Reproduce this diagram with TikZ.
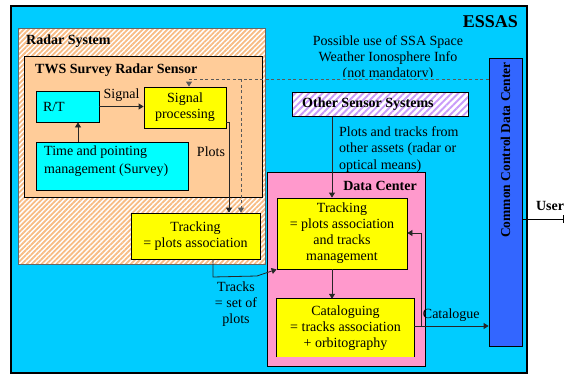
\documentclass[tikz,border=0pt]{standalone}
\usepackage{fontspec}
\setmainfont{Liberation Serif}
\usetikzlibrary{arrows.meta,patterns.meta}

\definecolor{essasblue}{HTML}{00CCFF}
\definecolor{twsorange}{HTML}{FFCC99}
\definecolor{hatchorange}{HTML}{F8BC84}
\definecolor{boxcyan}{HTML}{00FFFF}
\definecolor{boxyellow}{HTML}{FFFF00}
\definecolor{dcpink}{HTML}{FF99CC}
\definecolor{ccdcblue}{HTML}{3366FF}
\definecolor{hatchpurple}{HTML}{C99CFA}

\begin{document}
\begin{tikzpicture}[x=1pt,y=-1pt,
  every node/.style={inner sep=0pt},
  txt/.style={font=\fontsize{14}{16}\selectfont, align=center},
  boldtxt/.style={font=\fontsize{14}{16}\selectfont\bfseries},
  box/.style={draw=black, line width=0.8pt, align=center,
    font=\fontsize{14}{16}\selectfont},
  conn/.style={draw=black!85, line width=0.8pt,
    -{Triangle[length=5pt,width=6pt]}},
  dashconn/.style={conn, draw=black!65, dash pattern=on 3pt off 2.5pt},
]
\useasboundingbox (0,0) rectangle (566,375);
\fill[white] (0,0) rectangle (566,375);

% outer ESSAS frame
\node[box, fill=essasblue, line width=1.3pt, minimum width=516pt,
  minimum height=367pt] (essas) at (269,189.5) {};
\node[font=\fontsize{18}{20}\selectfont\bfseries, anchor=east] (essaslbl)
  at (518,22) {ESSAS};

% radar system (hatched) and the TWS sensor inside it
\node[draw=black!60, line width=0.8pt, preaction={fill=white},
  pattern={Lines[angle=45,distance=3.5pt,line width=1.8pt]},
  pattern color=hatchorange, minimum width=247pt, minimum height=236pt]
  (radar) at (141.5,146) {};
\node[boldtxt, anchor=west] (radarlbl) at (26,41) {Radar System};
\node[box, fill=twsorange, minimum width=238pt, minimum height=141pt]
  (tws) at (143,126.5) {};
\node[boldtxt, anchor=west] (twslbl) at (35,70) {TWS Survey Radar Sensor};

\node[box, fill=boxcyan, minimum width=63pt, minimum height=31pt,
  text width=49pt, inner xsep=7pt, align=left] (rt) at (67.5,106.5) {R/T};
\node[box, fill=boxcyan, minimum width=152pt, minimum height=48pt]
  (timep) at (112,166) {};
\node[font=\fontsize{14}{18}\selectfont, align=left, anchor=north west]
  (timeplbl) at (44,146) {Time and pointing\\management (Survey)};
\node[box, fill=boxyellow, minimum width=82pt, minimum height=41pt]
  (sigproc) at (185,107.5) {Signal\\processing};
\node[box, fill=boxyellow, minimum width=129pt, minimum height=46pt]
  (trk) at (195.5,236) {Tracking\\= plots association};

% data center
\node[box, fill=dcpink, minimum width=158pt, minimum height=194pt]
  (dc) at (346,269) {};
\node[boldtxt] (dclbl) at (380,186) {Data Center};
\node[box, fill=boxyellow, minimum width=130pt, minimum height=71pt]
  (dctrk) at (342,233.5)
  {Tracking\\= plots association\\and tracks\\management};
\node[fill=boxyellow, minimum width=137pt, minimum height=58pt, align=center,
  font=\fontsize{14}{16}\selectfont]
  (cat) at (345.5,328) {Cataloguing\\= tracks association\\+ orbitography};
\draw[line width=0.8pt] (cat.south west) -- (cat.north west)
  -- (cat.north east) -- (cat.south east);

% other sensors
\node[draw=black, line width=0.8pt, preaction={fill=white},
  pattern={Lines[angle=45,distance=4.8pt,line width=1.9pt]},
  pattern color=hatchpurple, minimum width=176pt, minimum height=24pt]
  (other) at (380,104) {};
\node[boldtxt, anchor=west] (otherlbl) at (302,104) {Other Sensor Systems};

% common control data center
\node[box, fill=ccdcblue, minimum width=33pt, minimum height=288pt]
  (ccdc) at (505.5,202) {};
\node[font=\fontsize{13.5}{16}\selectfont\bfseries, rotate=90]
  (ccdclbl) at (505.5,150) {Common Control Data Center};

% free text; the last line runs under the dashed feed line
\begin{scope}
  \clip (300,28) rectangle (480,76);
  \node[txt] (ssa) at (388,58)
    {Possible use of SSA Space\\Weather Ionosphere Info\\(not mandatory)};
\end{scope}
\node[font=\fontsize{14}{16.5}\selectfont, align=left, anchor=north west]
  (othertxt) at (339,126)
  {Plots and tracks from\\other assets (radar or\\optical means)};

% connectors
\coordinate (dsplit) at (241,79);
\coordinate (dcorner) at (189,79);
\draw[dashconn] (ccdc.west |- dsplit) -- (dcorner) -- (dcorner |- sigproc.north);
\draw[dashconn] (dsplit) -- (dsplit |- trk.north);

\draw[conn] (rt.east) -- node[txt, above=5pt] (siglbl) {Signal} (sigproc.west |- rt.east);
\draw[conn] (timep.north -| 78,0) -- (rt.south -| 78,0);

\coordinate (plotsbend) at (229,122);
\draw[conn] (sigproc.east |- plotsbend) -- (plotsbend) -- (plotsbend |- trk.north);
\node[txt] (plotslbl) at (211,152) {Plots};

\coordinate (tk1) at (213,277);
\coordinate (tk2) at (257,276);
\draw[conn] (tk1 |- trk.south) -- (tk1) -- (tk2) -- (dctrk.south west);
\node[txt] (trackslbl) at (236,304) {Tracks\\= set of\\plots};

\draw[conn] ([xshift=-48pt]other.south) -- ([xshift=-48pt]other.south |- dctrk.north);
\draw[conn] ([xshift=-10pt]dctrk.south) -- ([xshift=-10pt]dctrk.south |- cat.north);

\coordinate (catout) at (414,326);
\coordinate (fb) at (421,326);
\draw[conn] (catout) -- node[txt, above=4pt] (catlbl) {Catalogue} (ccdc.west |- catout);
\draw[conn] (fb) -- (421,233) -- (dctrk.east |- 0,233);

\coordinate (userend) at (564,219);
\draw[draw=black, line width=1pt, -{Bar[width=8pt]}] (ccdc.east |- userend) -- (userend);
\node[boldtxt] (userlbl) at (550,206) {User};
\end{tikzpicture}
\end{document}
